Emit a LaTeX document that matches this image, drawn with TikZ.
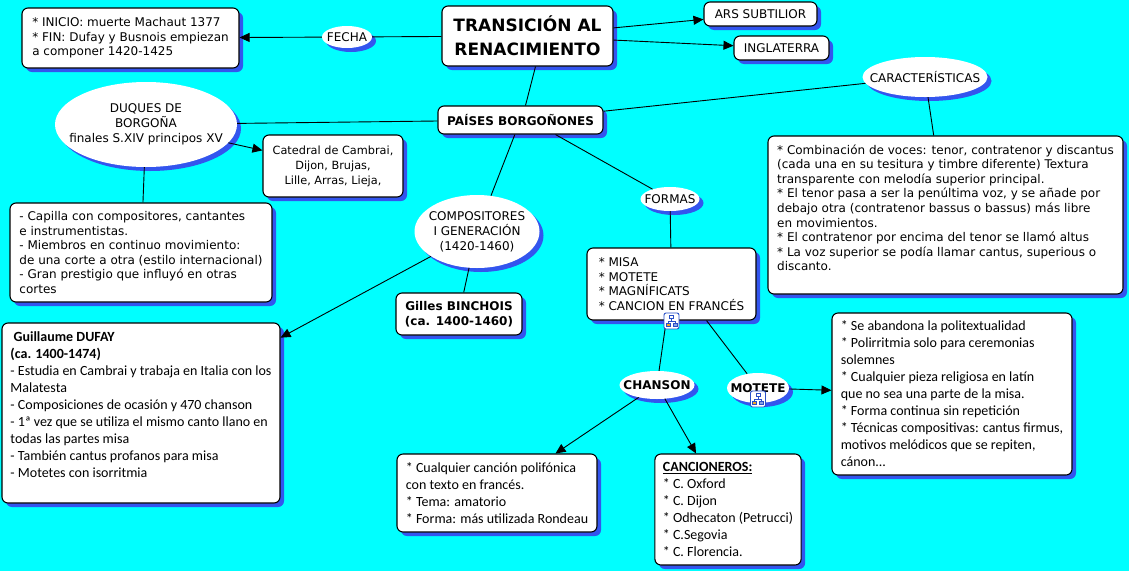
\documentclass[tikz,border=0pt]{standalone}
\usepackage{fontspec}
\setmainfont{DejaVu Sans}
\newfontfamily\calibri{Carlito}
\usetikzlibrary{shapes.geometric,shadows,arrows.meta}

\definecolor{fondo}{RGB}{0,255,255}
\definecolor{sombra}{RGB}{51,85,238}
\definecolor{azulicono}{RGB}{40,80,200}
\definecolor{naranjaicono}{RGB}{240,165,40}

\tikzset{
  sombreado/.style={drop shadow={shadow xshift=4pt, shadow yshift=-4pt, fill=sombra, opacity=1}},
  concepto/.style={rectangle, rounded corners=6pt, draw=black, line width=1.1pt, fill=white,
    sombreado, inner xsep=8pt, inner ysep=2pt, align=left,
    font=\fontsize{12}{14.6}\selectfont},
  enlace/.style={ellipse, fill=white, sombreado, inner sep=-40pt, align=center,
    font=\fontsize{12}{15}\selectfont},
  texto calibri/.style={font=\calibri\fontsize{14}{17}\selectfont},
  linea/.style={line width=0.9pt},
  flecha/.style={line width=0.9pt, -{Triangle[length=10pt,width=9pt]}},
}

% icono de mapa enlazado
\newcommand{\iconoMapa}[1]{%
  \begin{scope}[shift={#1}]
    \draw[azulicono, fill=white, rounded corners=2pt, line width=0.9pt] (-7.5,-8) rectangle (7.5,8);
    \draw[azulicono, line width=0.6pt] (0,-3) -- (0,0) (-3.5,0) -- (3.5,0)
      (-3.5,0) -- (-3.5,2) (3.5,0) -- (3.5,2);
    \filldraw[draw=azulicono, fill=white, line width=0.6pt] (-1.8,-6) rectangle (1.8,-3);
    \filldraw[draw=azulicono, fill=naranjaicono, line width=0.6pt] (-5.5,2) rectangle (-1.5,5.5);
    \filldraw[draw=azulicono, fill=azulicono!55, line width=0.6pt] (1.5,2) rectangle (5.5,5.5);
  \end{scope}}

\begin{document}
\begin{tikzpicture}[x=1pt,y=-1pt]
  \path[use as bounding box, fill=fondo] (0,0) rectangle (1129,571);

  % parte superior
  \node[concepto, align=center, font=\fontsize{17}{24}\selectfont\bfseries,
    minimum width=171pt, minimum height=60pt] (titulo) at (527.5,36) {TRANSICIÓN AL\\RENACIMIENTO};
  \node[enlace, minimum width=50pt, minimum height=22pt] (fechaE) at (347,37) {FECHA};
  \node[concepto, minimum width=217pt, minimum height=60pt] (fecha) at (130.5,38)
    {* INICIO: muerte Machaut 1377\\* FIN: Dufay y Busnois empiezan\\a componer 1420-1425};
  \node[concepto, align=center, minimum width=113pt, minimum height=24pt] (ars) at (760.5,14) {ARS SUBTILIOR};
  \node[concepto, align=center, minimum width=95pt, minimum height=24pt] (ingl) at (781.5,48) {INGLATERRA};

  \node[concepto, align=center, font=\fontsize{12}{14.6}\selectfont\bfseries,
    minimum width=165pt, minimum height=28pt] (paises) at (520.5,120) {PAÍSES BORGOÑONES};

  % caracteristicas
  \node[enlace, minimum width=125pt, minimum height=40pt] (caracE) at (925,77) {CARACTERÍSTICAS};
  \node[concepto, minimum width=355pt, minimum height=158pt] (carac) at (945.5,215)
    {* Combinación de voces: tenor, contratenor y discantus\\
     (cada una en su tesitura y timbre diferente) Textura\\
     transparente con melodía superior principal.\\
     * El tenor pasa a ser la penúltima voz, y se añade por\\
     debajo otra (contratenor bassus o bassus) más libre\\
     en movimientos.\\
     * El contratenor por encima del tenor se llamó altus\\
     * La voz superior se podía llamar cantus, superious o\\
     discanto.\\ \mbox{}};

  % duques de borgoña
  \node[enlace, minimum width=182pt, minimum height=85pt] (duquesE) at (146,124.5)
    {DUQUES DE\\BORGOÑA\\finales S.XIV principos XV};
  \node[concepto, align=center, font=\fontsize{11.3}{15}\selectfont,
    minimum width=140pt, minimum height=62pt] (catedral) at (333,166)
    {Catedral de Cambrai,\\Dijon, Brujas,\\Lille, Arras, Lieja,};
  \node[concepto, minimum width=262pt, minimum height=99pt] (capilla) at (141,252.5)
    {- Capilla con compositores, cantantes\\
     e instrumentistas.\\
     - Miembros en continuo movimiento:\\
     de una corte a otra (estilo internacional)\\
     - Gran prestigio que influyó en otras\\
     cortes};

  % compositores
  \node[enlace, minimum width=125pt, minimum height=73pt] (compE) at (477,231.5)
    {COMPOSITORES\\I GENERACIÓN\\(1420-1460)};
  \node[concepto, align=center, font=\fontsize{12}{14.6}\selectfont\bfseries,
    minimum width=126pt, minimum height=42pt] (gilles) at (459,314) {Gilles BINCHOIS\\(ca. 1400-1460)};
  \node[concepto, texto calibri, minimum width=278pt, minimum height=180pt] (dufay) at (141,413)
    {\textbf{\ Guillaume DUFAY}\\
     \textbf{(ca. 1400-1474)}\\
     - Estudia en Cambrai y trabaja en Italia con los\\
     Malatesta\\
     - Composiciones de ocasión y 470 chanson\\
     - 1ª vez que se utiliza el mismo canto llano en\\
     todas las partes misa\\
     - También cantus profanos para misa\\
     - Motetes con isorritmia\\ \mbox{}};

  % formas
  \node[enlace, minimum width=59pt, minimum height=24pt] (formasE) at (670,199) {FORMAS};
  \node[concepto, minimum width=169pt, minimum height=72pt] (misa) at (671.5,284)
    {* MISA\\* MOTETE\\* MAGNÍFICATS\\* CANCION EN FRANCÉS};
  \node[enlace, font=\fontsize{12}{15}\selectfont\bfseries,
    minimum width=75pt, minimum height=28pt] (chanE) at (657,385) {CHANSON};
  \node[enlace, font=\fontsize{12}{15}\selectfont\bfseries,
    minimum width=62pt, minimum height=30pt] (moteE) at (758,388) {MOTETE};
  \node[concepto, texto calibri, minimum width=240pt, minimum height=162pt] (motete) at (952,394)
    {* Se abandona la politextualidad\\
     * Polirritmia solo para ceremonias\\
     solemnes\\
     * Cualquier pieza religiosa en latín\\
     que no sea una parte de la misa.\\
     * Forma continua sin repetición\\
     * Técnicas compositivas: cantus firmus,\\
     motivos melódicos que se repiten,\\
     cánon...};
  \node[concepto, texto calibri, minimum width=200pt, minimum height=78pt] (chanson) at (497,493)
    {* Cualquier canción polifónica\\
     con texto en francés.\\
     * Tema: amatorio\\
     * Forma: más utilizada Rondeau};
  \node[concepto, texto calibri, minimum width=146pt, minimum height=111pt] (cancion) at (728,509.5)
    {\underline{\textbf{CANCIONEROS:}}\\
     * C. Oxford\\
     * C. Dijon\\
     * Odhecaton (Petrucci)\\
     * C.Segovia\\
     * C. Florencia.};

  % conexiones
  \draw[linea] (titulo) -- (fechaE);
  \draw[flecha] (fechaE) -- (fecha);
  \draw[flecha] (titulo) -- (ars);
  \draw[flecha] (titulo) -- (ingl);
  \draw[linea] ([xshift=8pt]titulo.south) -- ([xshift=5pt]paises.north);
  \draw[linea] (paises) -- (duquesE);
  \draw[linea] (paises) -- (caracE);
  \draw[linea] (caracE) -- (carac);
  \draw[linea] (paises) -- (compE);
  \draw[linea] ([xshift=35pt]paises.south) -- (formasE);
  \draw[flecha] (duquesE) -- (catedral);
  \draw[linea] (duquesE) -- (capilla);
  \draw[linea] (compE) -- (gilles);
  \draw[flecha] (compE) -- (dufay);
  \draw[linea] (formasE) -- (misa);
  \draw[linea] (misa) -- (chanE);
  \draw[linea] ([xshift=35pt]misa.south) -- (moteE);
  \draw[flecha] (chanE) -- (chanson);
  \draw[flecha] (chanE) -- (cancion);
  \draw[flecha] (moteE) -- (motete);

  % iconos
  \iconoMapa{(671.5,321)}
  \iconoMapa{(758,399)}
\end{tikzpicture}
\end{document}
